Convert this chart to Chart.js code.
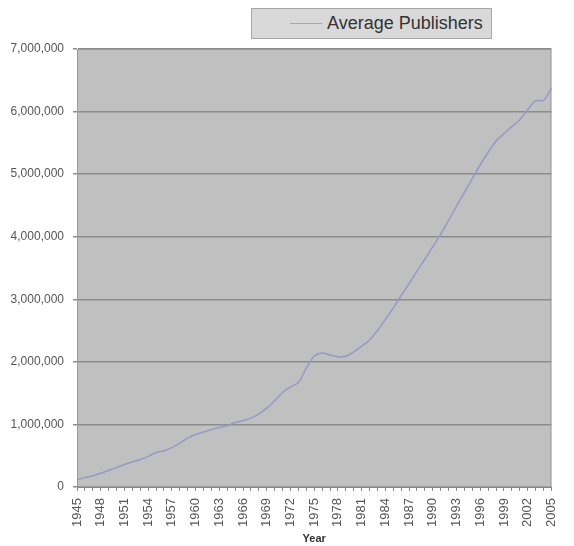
<!DOCTYPE html>
<html>
<head>
<meta charset="utf-8">
<script src="https://cdn.jsdelivr.net/npm/chart.js@4.4.1/dist/chart.umd.min.js"></script>
<style>
  html, body { margin: 0; padding: 0; background: #fff; }
  #wrap { position: relative; width: 574px; height: 546px; }
  #legend {
    position: absolute; left: 251px; top: 8px; width: 239px; height: 29px;
    background: #d9d9d9; border: 1px solid #a8a8a8; box-sizing: content-box;
    font-family: "Liberation Sans", Arial, sans-serif; font-size: 18px; color: #333;
    display: flex; align-items: center;
  }
  #legend .swatch { width: 32px; height: 0; border-top: 1px solid #a4a4d0; margin-left: 38px; margin-right: 5px; }
</style>
</head>
<body>
<div id="wrap">
  <canvas id="chart" width="574" height="546"></canvas>
  <div id="legend"><span class="swatch"></span><span>Average Publishers</span></div>
</div>
<script>
const years = [];
for (let y = 1945; y <= 2005; y++) years.push(String(y));

const publishers = [
  115000, 150000, 180000, 220000, 265000, 310000, 360000, 400000, 440000, 490000,
  550000, 580000, 630000, 700000, 780000, 840000, 880000, 920000, 950000, 980000,
  1030000, 1060000, 1100000, 1170000, 1260000, 1380000, 1510000, 1600000, 1670000, 1900000,
  2090000, 2140000, 2110000, 2080000, 2090000, 2160000, 2250000, 2350000, 2500000, 2680000,
  2860000, 3060000, 3250000, 3450000, 3640000, 3840000, 4040000, 4260000, 4490000, 4710000,
  4930000, 5150000, 5350000, 5530000, 5650000, 5760000, 5870000, 6030000, 6170000, 6180000,
  6370000
];

const yTicks = [0, 1000000, 2000000, 3000000, 4000000, 5000000, 6000000, 7000000];

const textColor = '#555';
const fontFamily = '"Liberation Sans", Arial, sans-serif';

const plotBackground = {
  id: 'plotBackground',
  beforeDraw(chart) {
    const { ctx, chartArea: a } = chart;
    ctx.save();
    ctx.fillStyle = '#c0c0c0';
    ctx.fillRect(a.left, a.top, a.right - a.left, a.bottom - a.top);
    ctx.restore();
  },
  afterDatasetsDraw(chart) {
    const { ctx, chartArea: a } = chart;
    ctx.save();
    ctx.strokeStyle = '#9a9a9a';
    ctx.lineWidth = 1;
    ctx.strokeRect(a.left + 0.5, a.top + 0.5, a.right - a.left - 1, a.bottom - a.top - 1);
    ctx.restore();
  }
};

new Chart(document.getElementById('chart'), {
  type: 'line',
  data: {
    labels: years,
    datasets: [{
      label: 'Average Publishers',
      data: publishers,
      borderColor: '#9898c6',
      borderWidth: 1.5,
      pointRadius: 0,
      tension: 0.3,
      fill: false
    }]
  },
  options: {
    responsive: false,
    animation: false,
    layout: { padding: { top: 49, right: 6, left: 0, bottom: 0 } },
    plugins: { legend: { display: false }, tooltip: { enabled: false } },
    scales: {
      x: {
        offset: false,
        afterFit: (scale) => { scale.height = 59; },
        grid: { drawOnChartArea: false, color: '#888', tickLength: 4 },
        border: { color: '#888', width: 1 },
        ticks: {
          autoSkip: false,
          maxRotation: 90,
          minRotation: 90,
          padding: 7,
          color: textColor,
          font: { family: fontFamily, size: 13 },
          callback: (value, index) => (index % 3 === 0 ? years[index] : '')
        },
        title: {
          display: true,
          text: 'Year',
          color: '#333',
          font: { family: fontFamily, size: 11, weight: 'bold' },
          padding: { top: 0, bottom: 0 }
        }
      },
      y: {
        min: 0,
        max: 7000000,
        afterFit: (scale) => { scale.width = 77; },
        afterBuildTicks: (scale) => { scale.ticks = yTicks.map((v) => ({ value: v })); },
        grid: { color: '#8c8c8c', lineWidth: 1.5, tickLength: 4 },
        border: { color: '#888', width: 1 },
        ticks: {
          padding: 9,
          color: textColor,
          font: { family: fontFamily, size: 12 },
          callback: (value) => value.toLocaleString('en-US')
        }
      }
    }
  },
  plugins: [plotBackground]
});
</script>
</body>
</html>
